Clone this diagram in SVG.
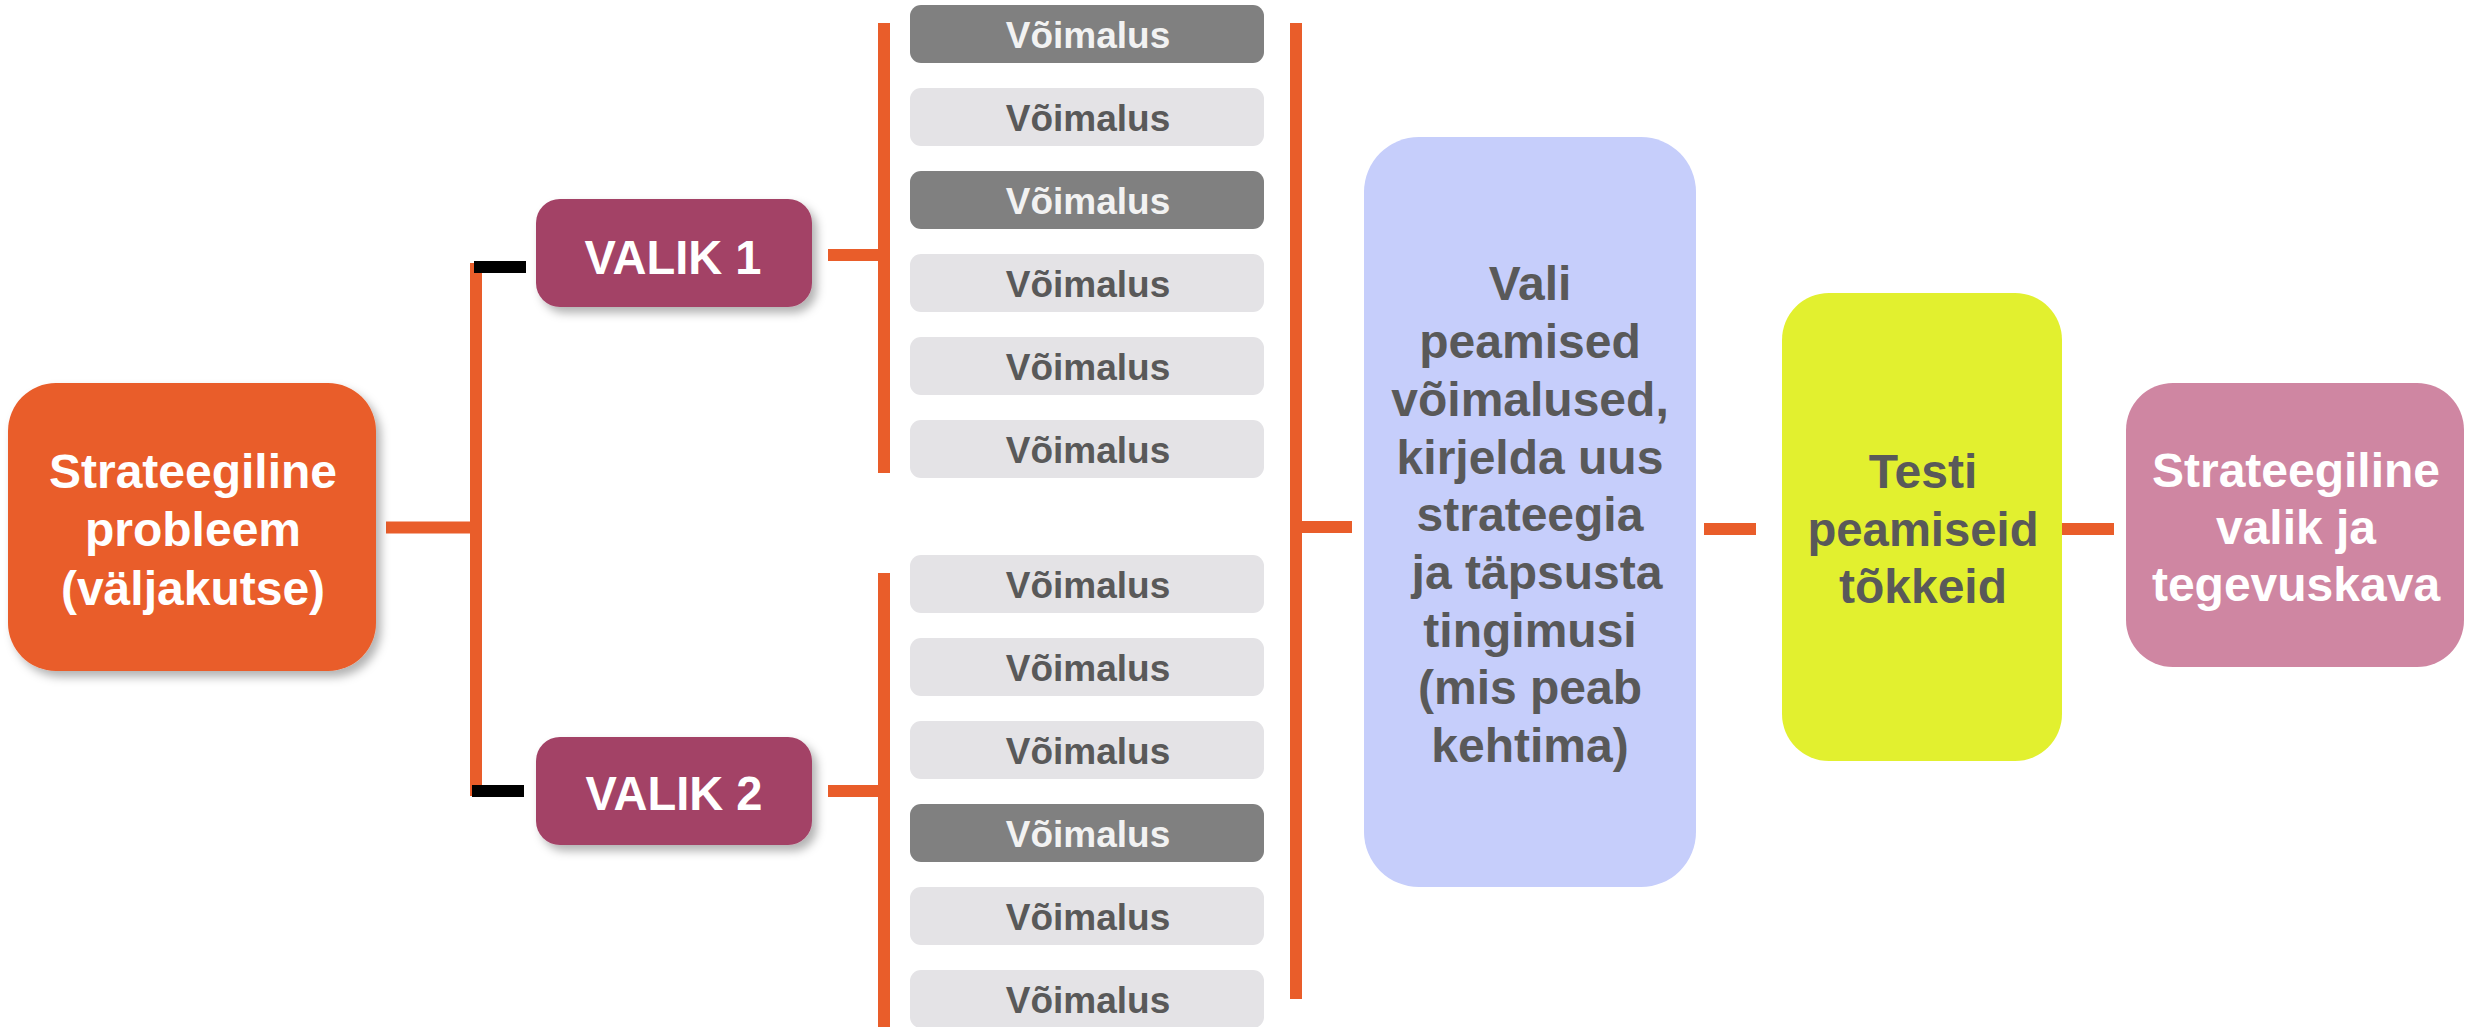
<svg xmlns="http://www.w3.org/2000/svg" width="2471" height="1027" viewBox="0 0 2471 1027">
  <defs>
    <filter id="shadow" x="-10%" y="-10%" width="130%" height="140%">
      <feDropShadow dx="5" dy="6" stdDeviation="5" flood-color="#000" flood-opacity="0.3"/>
    </filter>
  </defs>
  <style>
    text { font-family: "Liberation Sans", Arial, sans-serif; font-weight: bold; text-anchor: middle; }
    .wire { stroke: #E95D2A; stroke-width: 12; fill: none; }
    .stub { stroke: #000; stroke-width: 12; fill: none; }
    .opt-dark rect { fill: #808080; }
    .opt-dark text { fill: #F2F2F2; font-size: 37px; }
    .opt-light rect { fill: #E4E3E6; }
    .opt-light text { fill: #595959; font-size: 37px; }
    .big { font-size: 48px; }
  </style>
  <rect width="2471" height="1027" fill="#fff"/>

  <!-- connectors -->
  <g id="connectors">
    <line class="wire" x1="386" y1="527.5" x2="476" y2="527.5"/>
    <line class="wire" x1="476" y1="263" x2="476" y2="796"/>
    <line class="stub" x1="474" y1="267" x2="526" y2="267"/>
    <line class="stub" x1="472" y1="791" x2="524" y2="791"/>
    <line class="wire" x1="828" y1="255" x2="884" y2="255"/>
    <line class="wire" x1="884" y1="23" x2="884" y2="473"/>
    <line class="wire" x1="828" y1="791" x2="884" y2="791"/>
    <line class="wire" x1="884" y1="573" x2="884" y2="1027"/>
    <line class="wire" x1="1296" y1="23" x2="1296" y2="999"/>
    <line class="wire" x1="1296" y1="527" x2="1352" y2="527"/>
    <line class="wire" x1="1704" y1="529" x2="1756" y2="529"/>
    <line class="wire" x1="2062" y1="529" x2="2114" y2="529"/>
  </g>

  <!-- starting problem -->
  <g id="problem">
    <rect x="8" y="383" width="368" height="288" rx="48" fill="#E95D2A" filter="url(#shadow)"/>
    <text class="big" fill="#fff" x="193" y="488">Strateegiline</text>
    <text class="big" fill="#fff" x="193" y="546">probleem</text>
    <text class="big" fill="#fff" x="193" y="605">(väljakutse)</text>
  </g>

  <!-- choices -->
  <g id="valik1">
    <rect x="536" y="199" width="276" height="108" rx="24" fill="#A34266" filter="url(#shadow)"/>
    <text class="big" fill="#fff" x="673" y="274" textLength="177" lengthAdjust="spacingAndGlyphs">VALIK 1</text>
  </g>
  <g id="valik2">
    <rect x="536" y="737" width="276" height="108" rx="24" fill="#A34266" filter="url(#shadow)"/>
    <text class="big" fill="#fff" x="674" y="810" textLength="177" lengthAdjust="spacingAndGlyphs">VALIK 2</text>
  </g>

  <!-- options, first choice -->
  <g id="opt1" class="opt-dark"><rect x="910" y="5" width="354" height="58" rx="11"/><text x="1088" y="48">Võimalus</text></g>
  <g id="opt2" class="opt-light"><rect x="910" y="88" width="354" height="58" rx="11"/><text x="1088" y="131">Võimalus</text></g>
  <g id="opt3" class="opt-dark"><rect x="910" y="171" width="354" height="58" rx="11"/><text x="1088" y="214">Võimalus</text></g>
  <g id="opt4" class="opt-light"><rect x="910" y="254" width="354" height="58" rx="11"/><text x="1088" y="297">Võimalus</text></g>
  <g id="opt5" class="opt-light"><rect x="910" y="337" width="354" height="58" rx="11"/><text x="1088" y="380">Võimalus</text></g>
  <g id="opt6" class="opt-light"><rect x="910" y="420" width="354" height="58" rx="11"/><text x="1088" y="463">Võimalus</text></g>

  <!-- options, second choice -->
  <g id="opt7" class="opt-light"><rect x="910" y="555" width="354" height="58" rx="11"/><text x="1088" y="598">Võimalus</text></g>
  <g id="opt8" class="opt-light"><rect x="910" y="638" width="354" height="58" rx="11"/><text x="1088" y="681">Võimalus</text></g>
  <g id="opt9" class="opt-light"><rect x="910" y="721" width="354" height="58" rx="11"/><text x="1088" y="764">Võimalus</text></g>
  <g id="opt10" class="opt-dark"><rect x="910" y="804" width="354" height="58" rx="11"/><text x="1088" y="847">Võimalus</text></g>
  <g id="opt11" class="opt-light"><rect x="910" y="887" width="354" height="58" rx="11"/><text x="1088" y="930">Võimalus</text></g>
  <g id="opt12" class="opt-light"><rect x="910" y="970" width="354" height="58" rx="11"/><text x="1088" y="1013">Võimalus</text></g>

  <!-- selection step -->
  <g id="select">
    <rect x="1364" y="137" width="332" height="750" rx="55" fill="#C6CEFB"/>
    <g fill="#595959" class="big">
      <text class="big" x="1530" y="300">Vali</text>
      <text class="big" x="1530" y="358">peamised</text>
      <text class="big" x="1530" y="416">võimalused,</text>
      <text class="big" x="1530" y="474">kirjelda uus</text>
      <text class="big" x="1530" y="531">strateegia</text>
      <text class="big" x="1537" y="589">ja täpsusta</text>
      <text class="big" x="1530" y="647">tingimusi</text>
      <text class="big" x="1530" y="704">(mis peab</text>
      <text class="big" x="1530" y="762">kehtima)</text>
    </g>
  </g>

  <!-- testing step -->
  <g id="test">
    <rect x="1782" y="293" width="280" height="468" rx="47" fill="#E2F02F"/>
    <text class="big" fill="#595959" x="1923" y="488">Testi</text>
    <text class="big" fill="#595959" x="1923" y="546" textLength="231" lengthAdjust="spacingAndGlyphs">peamiseid</text>
    <text class="big" fill="#595959" x="1923" y="603">tõkkeid</text>
  </g>

  <!-- outcome -->
  <g id="outcome">
    <rect x="2126" y="383" width="338" height="284" rx="47" fill="#CF86A2"/>
    <text class="big" fill="#fff" x="2296" y="487">Strateegiline</text>
    <text class="big" fill="#fff" x="2296" y="544">valik ja</text>
    <text class="big" fill="#fff" x="2296" y="601">tegevuskava</text>
  </g>
</svg>
